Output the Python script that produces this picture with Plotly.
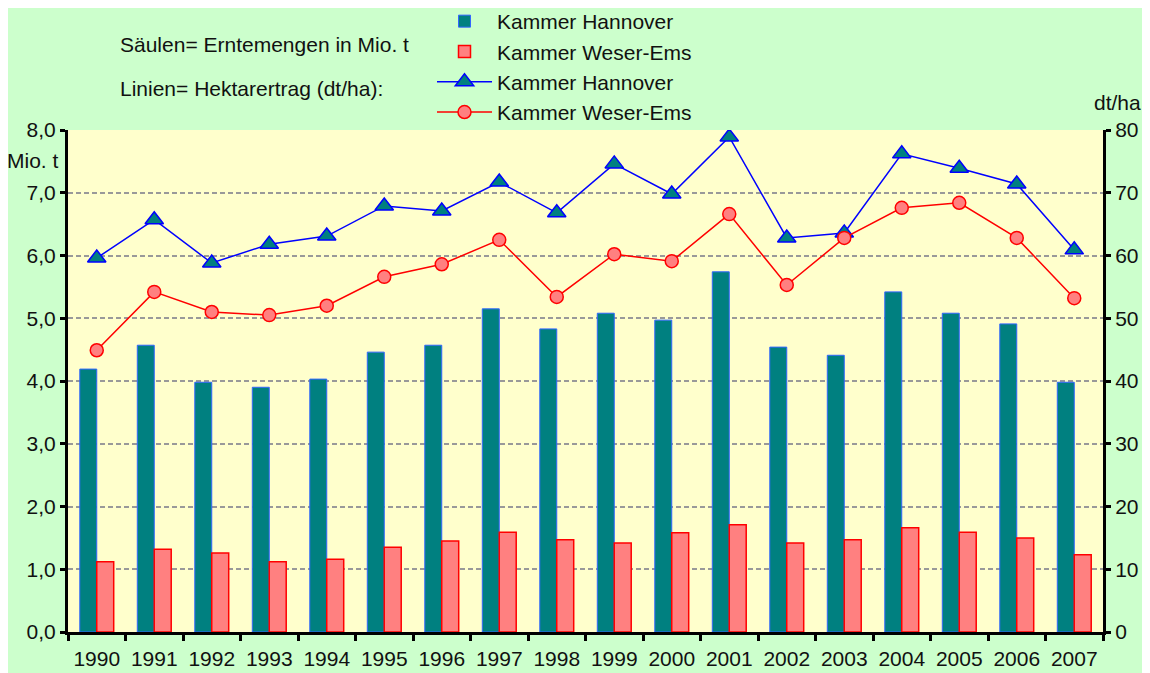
import plotly.graph_objects as go

years = [str(y) for y in range(1990, 2008)]
ernte_hannover = [4.19, 4.57, 3.98, 3.90, 4.03, 4.46, 4.57, 5.15, 4.83, 5.08, 4.97, 5.74, 4.54, 4.41, 5.42, 5.08, 4.91, 3.98]
ernte_weser_ems = [1.12, 1.32, 1.26, 1.12, 1.16, 1.35, 1.45, 1.59, 1.47, 1.42, 1.58, 1.71, 1.42, 1.47, 1.66, 1.59, 1.50, 1.23]
ertrag_hannover = [59.6, 65.7, 58.8, 61.8, 63.1, 67.9, 67.1, 71.7, 66.8, 74.6, 69.8, 78.9, 62.8, 63.6, 76.2, 73.9, 71.4, 60.9]
ertrag_weser_ems = [44.9, 54.2, 51.0, 50.5, 52.0, 56.6, 58.6, 62.5, 53.4, 60.2, 59.1, 66.6, 55.3, 62.8, 67.6, 68.4, 62.8, 53.2]

FONT = "Liberation Sans, Arial, sans-serif"
FS = 21

fig = go.Figure()
fig.add_trace(go.Bar(x=years, y=ernte_hannover, name="Kammer Hannover",
                     marker=dict(color="#008080", line=dict(color="#3366FF", width=1))))
fig.add_trace(go.Bar(x=years, y=ernte_weser_ems, name="Kammer Weser-Ems",
                     marker=dict(color="#FF8080", line=dict(color="#FF0000", width=1.5))))
fig.add_trace(go.Scatter(x=years, y=ertrag_hannover, name="Kammer Hannover", yaxis="y2",
                         mode="lines+markers", line=dict(color="#0000FF", width=1.5),
                         marker=dict(symbol="triangle-up", size=16, color="#008080",
                                     line=dict(color="#0000FF", width=1.5))))
fig.add_trace(go.Scatter(x=years, y=ertrag_weser_ems, name="Kammer Weser-Ems", yaxis="y2",
                         mode="lines+markers", line=dict(color="#FF0000", width=1.5),
                         marker=dict(symbol="circle", size=13, color="#FF8080",
                                     line=dict(color="#FF0000", width=1.5))))

# figure coordinates (screen minus 8px page margin)
L, R, T, B = 60, 55, 122, 49
W, H = 1150, 673
pw, ph = W - L - R, H - T - B

def px(x):
    return (x - L) / pw

def py(y):
    return (H - B - y) / ph

fig.update_layout(
    width=W, height=H,
    margin=dict(l=L, r=R, t=T, b=B, pad=0, autoexpand=False),
    paper_bgcolor="#CCFFCC",
    plot_bgcolor="#FFFFCC",
    separators=",.",
    font=dict(family=FONT, size=FS, color="#111111"),
    barmode="group", bargap=0.41, bargroupgap=0,
    showlegend=True,
    legend=dict(x=px(424), y=py(-7), xanchor="left", yanchor="top",
                bgcolor="rgba(0,0,0,0)", font=dict(family=FONT, size=FS),
                traceorder="normal", itemwidth=55),
    xaxis=dict(type="category", tickson="boundaries", ticks="outside", ticklen=6,
               tickwidth=3, tickcolor="black", showline=True, linecolor="black",
               linewidth=3, showgrid=False, tickfont=dict(size=FS), range=[-0.5, 17.5],
               tickangle=0, automargin=False, ticklabelstandoff=6),
    yaxis=dict(range=[0, 8], dtick=1, tickformat=".1f", ticks="outside", ticklen=5,
               tickwidth=3, tickcolor="black", showline=True, linecolor="black", linewidth=3,
               showgrid=True, gridcolor="#999999", griddash="5px,3px", gridwidth=1.5,
               zeroline=False, tickfont=dict(size=FS), automargin=False),
    yaxis2=dict(range=[0, 80], dtick=10, overlaying="y", side="right", ticks="outside",
                ticklen=5, tickwidth=3, tickcolor="black", showline=True, linecolor="black",
                linewidth=3, showgrid=False, zeroline=False, tickfont=dict(size=FS),
                automargin=False),
    annotations=[
        dict(text="Säulen= Erntemengen in Mio. t", xref="paper", yref="paper",
             x=px(110), y=py(37), xanchor="left", yanchor="middle", showarrow=False,
             font=dict(size=FS)),
        dict(text="Linien= Hektarertrag (dt/ha):", xref="paper", yref="paper",
             x=px(110), y=py(80), xanchor="left", yanchor="middle", showarrow=False,
             font=dict(size=FS)),
        dict(text="Mio. t", xref="paper", yref="paper", x=px(53), y=py(153),
             xanchor="right", yanchor="middle", showarrow=False, font=dict(size=FS)),
        dict(text="dt/ha", xref="paper", yref="paper", x=px(1135), y=py(94),
             xanchor="right", yanchor="middle", showarrow=False, font=dict(size=FS)),
    ],
)

fig.write_html("out.html")
